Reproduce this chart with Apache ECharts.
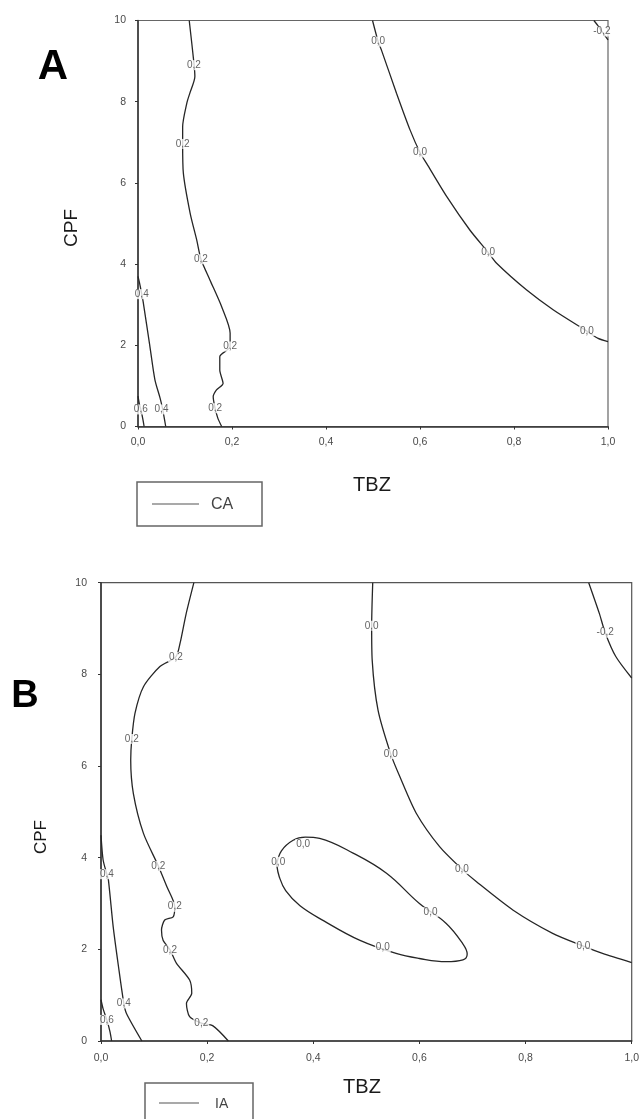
<!DOCTYPE html>
<html>
<head>
<meta charset="utf-8">
<script src="https://cdn.jsdelivr.net/npm/echarts@6/dist/echarts.min.js"></script>
<style>
  html, body { margin: 0; padding: 0; background: #fff; }
  #chart { width: 642px; height: 1119px; }
</style>
</head>
<body>
<div id="chart"></div>
<script>
// Axis tick labels (decimal comma)
const tbzTicks = ['0,0', '0,2', '0,4', '0,6', '0,8', '1,0'];
const cpfTicks = ['0', '2', '4', '6', '8', '10'];

// Panel A (CA) contour lines: [TBZ, CPF]
const caLevelM02 = [[0.970, 10], [0.980, 9.85], [0.990, 9.68], [1.0, 9.52]];
const caLevel00 = [[0.499, 10], [0.511, 9.48], [0.518, 9.27], [0.550, 8.21], [0.579, 7.30], [0.600, 6.75], [0.614, 6.48], [0.657, 5.66], [0.706, 4.84], [0.745, 4.29], [0.763, 4.02], [0.827, 3.36], [0.884, 2.87], [0.955, 2.35], [0.979, 2.17], [1.0, 2.09]];
const caLevel02 = [[0.109, 10], [0.119, 8.95], [0.121, 8.62], [0.110, 8.2], [0.104, 7.97], [0.095, 7.38], [0.095, 6.96], [0.0965, 6.24], [0.111, 5.25], [0.125, 4.59], [0.134, 4.12], [0.153, 3.61], [0.178, 2.95], [0.196, 2.30], [0.196, 1.97], [0.174, 1.72], [0.174, 1.39], [0.181, 1.06], [0.167, 0.90], [0.160, 0.73], [0.164, 0.45], [0.170, 0.2], [0.178, 0]];
const caLevel04 = [[0, 3.7], [0.003, 3.55], [0.008, 3.26], [0.011, 3.07], [0.025, 2.0], [0.036, 1.15], [0.047, 0.7], [0.052, 0.45], [0.059, 0]];
const caLevel06 = [[0, 0.75], [0.003, 0.55], [0.006, 0.42], [0.010, 0.2], [0.013, 0]];
const caLabels = [[0.119, 8.9, '0,2'], [0.095, 6.96, '0,2'], [0.134, 4.12, '0,2'], [0.196, 1.97, '0,2'], [0.164, 0.45, '0,2'], [0.008, 3.26, '0,4'], [0.050, 0.42, '0,4'], [0.006, 0.42, '0,6'], [0.511, 9.48, '0,0'], [0.600, 6.75, '0,0'], [0.745, 4.29, '0,0'], [0.955, 2.35, '0,0'], [0.987, 9.73, '-0,2']];

// Panel B (IA) contour lines: [TBZ, CPF]
const iaLevelM02 = [[0.919, 10], [0.939, 9.33], [0.950, 8.91], [0.970, 8.39], [1.0, 7.92]];
const iaLevel00 = [[0.512, 10], [0.510, 9.06], [0.511, 8.31], [0.522, 7.22], [0.546, 6.26], [0.563, 5.77], [0.594, 4.97], [0.638, 4.24], [0.680, 3.75], [0.707, 3.48], [0.776, 2.86], [0.851, 2.35], [0.909, 2.07], [0.945, 1.91], [1.0, 1.71]];
const iaLevel00Loop = [[0.331, 3.85], [0.340, 4.15], [0.362, 4.38], [0.385, 4.45], [0.412, 4.42], [0.475, 4.10], [0.538, 3.66], [0.600, 3.00], [0.650, 2.57], [0.680, 2.15], [0.690, 1.90], [0.682, 1.77], [0.650, 1.73], [0.600, 1.80], [0.556, 1.91], [0.487, 2.20], [0.420, 2.62], [0.375, 2.95], [0.348, 3.28], [0.336, 3.58], [0.331, 3.85]];
const iaLevel02 = [[0.175, 10], [0.160, 9.3], [0.149, 8.68], [0.141, 8.38], [0.111, 8.17], [0.080, 7.73], [0.064, 7.15], [0.058, 6.59], [0.056, 6.13], [0.061, 5.40], [0.080, 4.53], [0.108, 3.82], [0.124, 3.37], [0.139, 2.93], [0.136, 2.71], [0.120, 2.64], [0.114, 2.42], [0.117, 2.20], [0.130, 1.99], [0.142, 1.70], [0.167, 1.33], [0.171, 1.04], [0.161, 0.82], [0.167, 0.53], [0.189, 0.39], [0.211, 0.33], [0.240, 0]];
const iaLevel04 = [[0, 4.49], [0.004, 3.95], [0.011, 3.64], [0.014, 3.51], [0.023, 2.49], [0.033, 1.62], [0.043, 0.82], [0.048, 0.60], [0.077, 0]];
const iaLevel06 = [[0, 0.9], [0.004, 0.7], [0.011, 0.46], [0.017, 0.2], [0.020, 0]];
const iaLabels = [[0.141, 8.38, '0,2'], [0.058, 6.59, '0,2'], [0.108, 3.82, '0,2'], [0.139, 2.93, '0,2'], [0.130, 1.99, '0,2'], [0.189, 0.39, '0,2'], [0.011, 3.64, '0,4'], [0.043, 0.82, '0,4'], [0.011, 0.46, '0,6'], [0.510, 9.06, '0,0'], [0.546, 6.26, '0,0'], [0.680, 3.75, '0,0'], [0.909, 2.07, '0,0'], [0.334, 3.91, '0,0'], [0.381, 4.30, '0,0'], [0.621, 2.81, '0,0'], [0.531, 2.04, '0,0'], [0.950, 8.91, '-0,2']];

const FONT = '"Liberation Sans", Arial, sans-serif';
const LINE_COLOR = '#262626';

function xAxisFor(gridIndex, margin) {
  return {
    gridIndex, type: 'value', min: 0, max: 1, interval: 0.2,
    axisLine: { show: true, lineStyle: { color: '#333', width: 1.5 } },
    axisTick: { show: true, inside: false, length: 3, lineStyle: { color: '#333' } },
    splitLine: { show: false },
    axisLabel: {
      margin, fontSize: 10.5, color: '#4a4a4a', fontFamily: FONT,
      formatter: v => tbzTicks[Math.round(v / 0.2)]
    }
  };
}
function yAxisFor(gridIndex, margin) {
  return {
    gridIndex, type: 'value', min: 0, max: 10, interval: 2,
    axisLine: { show: true, lineStyle: { color: '#333', width: 1.5 } },
    axisTick: { show: true, inside: false, length: 3, lineStyle: { color: '#333' } },
    splitLine: { show: false },
    axisLabel: {
      margin, fontSize: 10.5, color: '#4a4a4a', fontFamily: FONT,
      formatter: v => cpfTicks[Math.round(v / 2)]
    }
  };
}
function contour(name, idx, data, smooth) {
  return {
    name, type: 'line', xAxisIndex: idx, yAxisIndex: idx, data,
    showSymbol: false, smooth: smooth || 0.25, animation: false, silent: true, z: 2,
    lineStyle: { color: LINE_COLOR, width: 1.3 }
  };
}
function contourLabels(idx, data) {
  return {
    type: 'scatter', xAxisIndex: idx, yAxisIndex: idx, data,
    symbolSize: 1, itemStyle: { color: 'rgba(0,0,0,0)' },
    animation: false, silent: true, z: 5,
    label: {
      show: true, position: 'inside', formatter: p => p.value[2],
      fontSize: 10, color: '#3a3a3a', fontFamily: FONT,
      backgroundColor: '#fff', padding: [0, 1]
    }
  };
}

const chart = echarts.init(document.getElementById('chart'), null, { renderer: 'canvas' });
chart.setOption({
  backgroundColor: '#fff',
  animation: false,
  grid: [
    { left: 138, top: 20.5, width: 470, height: 406, show: true, borderColor: '#666', borderWidth: 1.2, backgroundColor: 'transparent' },
    { left: 101, top: 582.7, width: 531.5, height: 458.3, show: true, borderColor: '#555', borderWidth: 1.2, backgroundColor: 'transparent' }
  ],
  xAxis: [xAxisFor(0, 10), xAxisFor(1, 12)],
  yAxis: [yAxisFor(0, 12), yAxisFor(1, 14)],
  series: [
    contour('CA', 0, caLevelM02), contour('CA', 0, caLevel00), contour('CA', 0, caLevel02),
    contour('CA', 0, caLevel04), contour('CA', 0, caLevel06), contourLabels(0, caLabels),
    contour('IA', 1, iaLevelM02), contour('IA', 1, iaLevel00), contour('IA', 1, iaLevel00Loop, 0.4),
    contour('IA', 1, iaLevel02), contour('IA', 1, iaLevel04), contour('IA', 1, iaLevel06),
    contourLabels(1, iaLabels)
  ],
  graphic: [
    // panel letters
    { type: 'text', x: 53, y: 67, style: { text: 'A', font: 'bold 42px ' + FONT, fill: '#000', align: 'center', verticalAlign: 'middle' } },
    { type: 'text', x: 25, y: 697, style: { text: 'B', font: 'bold 38px ' + FONT, fill: '#000', align: 'center', verticalAlign: 'middle' } },
    // axis titles
    { type: 'text', x: 72, y: 228, rotation: Math.PI / 2, style: { text: 'CPF', font: '19px ' + FONT, fill: '#1a1a1a', align: 'center', verticalAlign: 'middle' } },
    { type: 'text', x: 372, y: 485, style: { text: 'TBZ', font: '20px ' + FONT, fill: '#1a1a1a', align: 'center', verticalAlign: 'middle' } },
    { type: 'text', x: 41.5, y: 837, rotation: Math.PI / 2, style: { text: 'CPF', font: '17px ' + FONT, fill: '#1a1a1a', align: 'center', verticalAlign: 'middle' } },
    { type: 'text', x: 362, y: 1087, style: { text: 'TBZ', font: '20px ' + FONT, fill: '#1a1a1a', align: 'center', verticalAlign: 'middle' } },
    // legend A
    { type: 'rect', shape: { x: 137, y: 482, width: 125, height: 44 }, style: { fill: '#fff', stroke: '#666', lineWidth: 1.5 } },
    { type: 'line', shape: { x1: 152, y1: 504, x2: 199, y2: 504 }, style: { stroke: '#555', lineWidth: 1.2 } },
    { type: 'text', x: 211, y: 505, style: { text: 'CA', font: '16px ' + FONT, fill: '#444', verticalAlign: 'middle' } },
    // legend B
    { type: 'rect', shape: { x: 145, y: 1083, width: 108, height: 50 }, style: { fill: '#fff', stroke: '#666', lineWidth: 1.5 } },
    { type: 'line', shape: { x1: 159, y1: 1103, x2: 199, y2: 1103 }, style: { stroke: '#555', lineWidth: 1.2 } },
    { type: 'text', x: 215, y: 1104, style: { text: 'IA', font: '14px ' + FONT, fill: '#444', verticalAlign: 'middle' } }
  ]
});
</script>
</body>
</html>
